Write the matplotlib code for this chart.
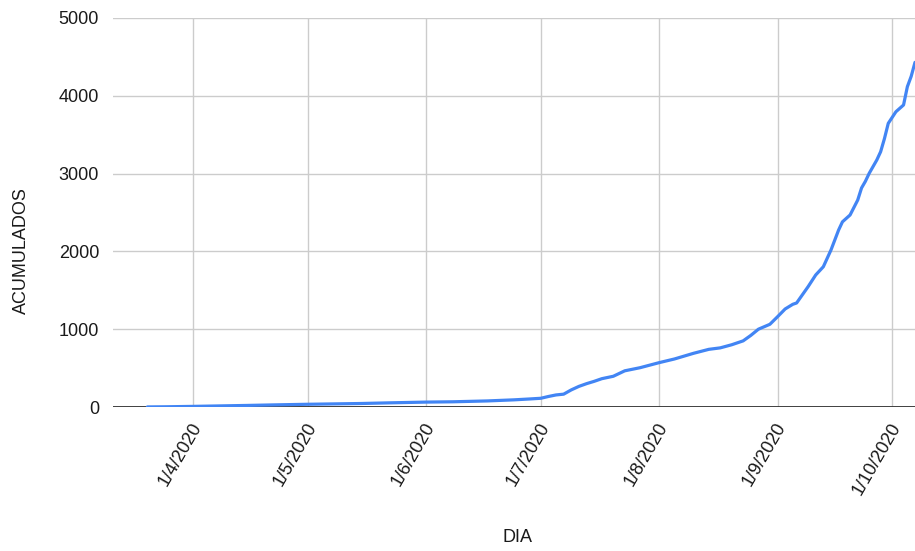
import matplotlib
matplotlib.use("Agg")
import matplotlib.pyplot as plt
import matplotlib.transforms as mtransforms
import pandas as pd

plt.rcParams['font.family'] = ['Liberation Sans', 'DejaVu Sans']

dates = ["2020-03-20", "2020-03-25", "2020-04-01", "2020-04-08", "2020-04-15",
         "2020-04-22", "2020-05-01", "2020-05-08", "2020-05-15", "2020-05-22",
         "2020-06-01", "2020-06-08", "2020-06-17", "2020-06-24", "2020-06-28",
         "2020-07-01", "2020-07-03", "2020-07-05", "2020-07-07", "2020-07-09",
         "2020-07-11", "2020-07-13", "2020-07-15", "2020-07-17", "2020-07-20",
         "2020-07-23", "2020-07-27", "2020-08-01", "2020-08-05", "2020-08-10",
         "2020-08-14", "2020-08-17", "2020-08-20", "2020-08-23", "2020-08-25",
         "2020-08-27", "2020-08-30", "2020-09-01", "2020-09-03", "2020-09-05",
         "2020-09-06", "2020-09-09", "2020-09-11", "2020-09-13", "2020-09-15",
         "2020-09-17", "2020-09-18", "2020-09-20", "2020-09-22", "2020-09-23",
         "2020-09-24", "2020-09-25", "2020-09-27", "2020-09-28", "2020-09-29",
         "2020-09-30", "2020-10-02", "2020-10-04", "2020-10-05", "2020-10-06",
         "2020-10-07"]
acumulados = [1, 3, 8, 14, 20,
              27, 35, 40, 45, 53,
              63, 67, 78, 92, 103,
              112, 135, 155, 165, 220,
              265, 300, 330, 364, 395,
              465, 505, 570, 617, 690,
              741, 760, 800, 850, 920,
              1000, 1063, 1160, 1260, 1320,
              1337, 1546, 1697, 1803, 2018,
              2275, 2380, 2468, 2660, 2815,
              2900, 3003, 3175, 3281, 3450,
              3646, 3795, 3882, 4117, 4250,
              4430]
x_ticks = ["2020-04-01", "2020-05-01", "2020-06-01", "2020-07-01",
           "2020-08-01", "2020-09-01", "2020-10-01"]
x_tick_labels = ["1/4/2020", "1/5/2020", "1/6/2020", "1/7/2020",
                 "1/8/2020", "1/9/2020", "1/10/2020"]
y_ticks = [0, 1000, 2000, 3000, 4000, 5000]

dts = pd.to_datetime(dates)

fig = plt.figure(figsize=(9.15, 5.51), dpi=100)
ax = fig.add_axes([113/915, 1 - 407/551, 1 - 113/915, (407 - 18)/551])

ax.plot(dts, acumulados, color='#4285F4', linewidth=2.3, solid_capstyle='round',
        solid_joinstyle='round', zorder=3, clip_on=True)

ax.set_xlim(pd.Timestamp("2020-03-11"), pd.Timestamp("2020-10-07"))
ax.set_ylim(0, 5000)

ax.set_yticks(y_ticks)
ax.set_yticklabels([str(v) for v in y_ticks])
ax.set_xticks(pd.to_datetime(x_ticks))

ax.tick_params(axis='both', length=0, labelsize=13, colors='#1a1a1a')
ax.tick_params(axis='y', pad=10)
ax.tick_params(axis='x', pad=9)

ax.set_xticklabels(x_tick_labels, rotation=60, ha='right', va='top')
offset = mtransforms.ScaledTranslation(12/100, 0, fig.dpi_scale_trans)
for tick in ax.xaxis.get_major_ticks():
    tick.label1.set_transform(tick.label1.get_transform() + offset)

ax.grid(True, color='#cccccc', linewidth=1.0)
ax.set_axisbelow(True)
for s in ax.spines.values():
    s.set_visible(False)
ax.axhline(0, color='#333333', linewidth=1.3, zorder=2)

fig.text(21.5/915, 1 - 251/551, "ACUMULADOS", rotation=90, ha='center', va='center',
         fontsize=13, color='#1a1a1a')
fig.text(518/915, 1 - 537.5/551, "DIA", ha='center', va='center',
         fontsize=13, color='#1a1a1a')

fig.savefig("out.png", dpi=100)
